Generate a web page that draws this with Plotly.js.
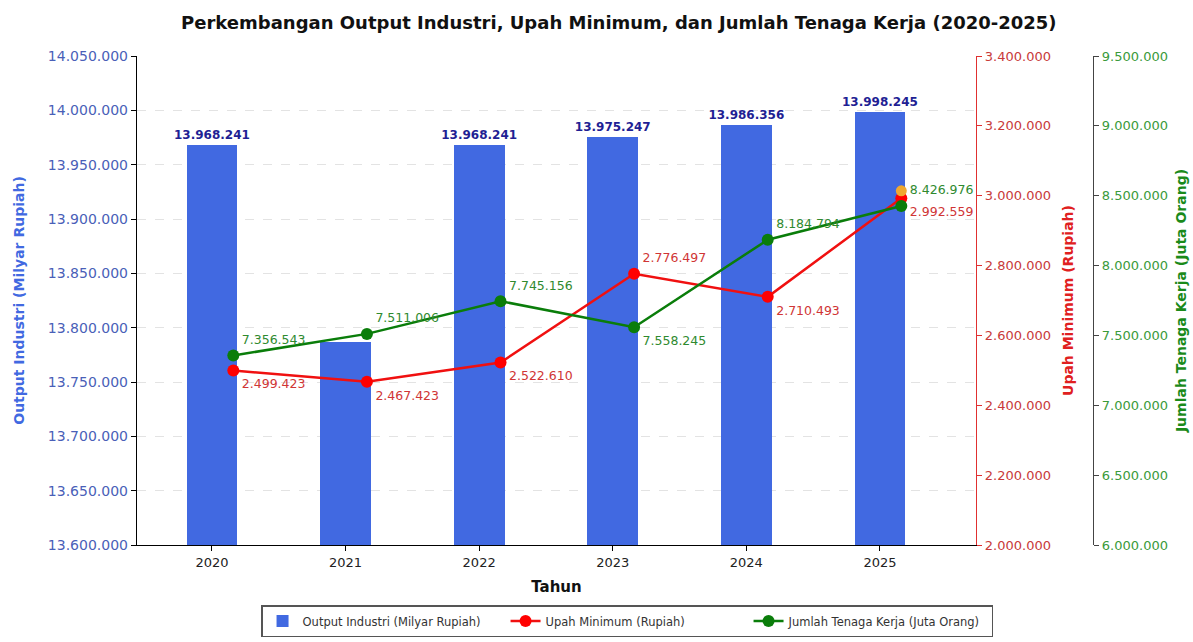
<!DOCTYPE html>
<html>
<head>
<meta charset="utf-8">
<script src="https://cdn.plot.ly/plotly-3.0.1.min.js"></script>
<style>
  html, body { margin: 0; padding: 0; background: #fff; }
  #chart { width: 1193px; height: 642px; }
</style>
</head>
<body>
<div id="chart"></div>
<script>
// ---- Data ----
const years = ['2020', '2021', '2022', '2023', '2024', '2025'];
const outputIndustri = [13968241, 13787000, 13968241, 13975247, 13986356, 13998245]; // Milyar Rupiah (2021 estimated, no label)
const outputLabelShown = [true, false, true, true, true, true];
const upahMinimum = [2499423, 2467423, 2522610, 2776497, 2710493, 2992559]; // Rupiah
const tenagaKerja = [7356543, 7511006, 7745156, 7558245, 8184794, 8426976]; // Juta Orang
const strayYear = ['2025'];
const strayValue = [8535000]; // small orange dot visible behind the 2025 green marker

const upahLabelPos = ['bottom right', 'bottom right', 'bottom right', 'top right', 'bottom right', 'bottom right'];
const tenagaLabelPos = ['top right', 'top right', 'top right', 'bottom right', 'top right', 'top right'];

// ---- Positions / styles ----
const LINE_SHIFT = 0.16;   // lines are drawn slightly right of the bar centres
const idx = years.map((_, i) => i);
const lineX = idx.map(i => i + LINE_SHIFT);
const strayX = strayYear.map(y => years.indexOf(y) + LINE_SHIFT);

const FONT = 'DejaVu Sans, sans-serif';
const BLUE = '#4169e1';
const RED = '#f01010';
const GREEN = '#0a7d0a';

const traces = [
  {
    type: 'bar',
    name: 'Output Industri (Milyar Rupiah)',
    x: idx,
    y: outputIndustri,
    width: 0.38,
    marker: { color: BLUE },
    texttemplate: outputLabelShown.map(s => s ? '<b>%{y:,.0f}</b>' : ''),
    textposition: 'outside',
    constraintext: 'none',
    cliponaxis: false,
    textfont: { family: FONT, size: 12, color: '#1f1f94' },
    xaxis: 'x', yaxis: 'y',
    hoverinfo: 'skip'
  },
  {
    type: 'scatter',
    mode: 'markers',
    x: strayX,
    y: strayValue,
    marker: { color: '#f0a830', size: 11 },
    showlegend: false,
    xaxis: 'x', yaxis: 'y3',
    hoverinfo: 'skip'
  },
  {
    type: 'scatter',
    mode: 'lines+markers+text',
    name: 'Upah Minimum (Rupiah)',
    x: lineX,
    y: upahMinimum,
    line: { color: RED, width: 2.5 },
    marker: { color: '#ff0000', size: 12 },
    texttemplate: '%{y:,.0f}',
    textposition: upahLabelPos,
    textfont: { family: FONT, size: 12.5, color: '#d03535' },
    cliponaxis: false,
    xaxis: 'x', yaxis: 'y2',
    hoverinfo: 'skip'
  },
  {
    type: 'scatter',
    mode: 'lines+markers+text',
    name: 'Jumlah Tenaga Kerja (Juta Orang)',
    x: lineX,
    y: tenagaKerja,
    line: { color: GREEN, width: 2.5 },
    marker: { color: GREEN, size: 12 },
    texttemplate: '%{y:,.0f}',
    textposition: tenagaLabelPos,
    textfont: { family: FONT, size: 12.5, color: '#2f8a2f' },
    cliponaxis: false,
    xaxis: 'x', yaxis: 'y3',
    hoverinfo: 'skip'
  }
];

const layout = {
  width: 1193,
  height: 642,
  paper_bgcolor: '#ffffff',
  plot_bgcolor: '#ffffff',
  separators: ',.',
  font: { family: FONT, size: 13, color: '#222' },
  margin: { l: 137, r: 100, t: 56, b: 97, pad: 0, autoexpand: false },
  showlegend: true,
  bargap: 0,
  title: {
    text: '<b>Perkembangan Output Industri, Upah Minimum, dan Jumlah Tenaga Kerja (2020-2025)</b>',
    font: { family: FONT, size: 18, color: '#111' },
    x: 0.504, xanchor: 'center', xref: 'paper',
    y: 0.964, yanchor: 'middle'
  },
  xaxis: {
    domain: [0, 0.8776],
    range: [-0.561, 5.719],
    tickmode: 'array',
    tickvals: idx,
    ticktext: years,
    showgrid: false,
    zeroline: false,
    showline: true, linecolor: '#000', linewidth: 1.2,
    ticks: 'outside', ticklen: 5, tickcolor: '#000',
    tickfont: { family: FONT, size: 13, color: '#222' },
    automargin: false,
    title: { text: '<b>Tahun</b>', font: { family: FONT, size: 15, color: '#111' }, standoff: 12 }
  },
  yaxis: {
    range: [13600000, 14050000],
    dtick: 50000,
    tick0: 13600000,
    tickformat: ',.0f',
    showgrid: true, gridcolor: '#e3e3e3', griddash: 'dash', gridwidth: 1,
    zeroline: false,
    showline: true, linecolor: '#000', linewidth: 1.2,
    ticks: 'outside', ticklen: 5, tickcolor: '#000',
    tickfont: { family: FONT, size: 14, color: '#4a5fb8' },
    automargin: false,
    title: { text: '<b>Output Industri (Milyar Rupiah)</b>', font: { family: FONT, size: 14, color: BLUE }, standoff: 20 }
  },
  yaxis2: {
    overlaying: 'y',
    anchor: 'x',
    side: 'right',
    range: [2000000, 3400000],
    dtick: 200000,
    tick0: 2000000,
    tickformat: ',.0f',
    showgrid: false, zeroline: false,
    showline: true, linecolor: '#e03030', linewidth: 1.2,
    ticks: 'outside', ticklen: 5, tickcolor: '#e03030',
    tickfont: { family: FONT, size: 13, color: '#c83a3a' },
    automargin: false,
    title: { text: '<b>Upah Minimum (Rupiah)</b>', font: { family: FONT, size: 14, color: '#e02020' }, standoff: 13 }
  },
  yaxis3: {
    overlaying: 'y',
    anchor: 'free',
    position: 1,
    side: 'right',
    range: [6000000, 9500000],
    dtick: 500000,
    tick0: 6000000,
    tickformat: ',.0f',
    showgrid: false, zeroline: false,
    showline: true, linecolor: '#444', linewidth: 1.2,
    ticks: 'outside', ticklen: 5, tickcolor: '#444',
    tickfont: { family: FONT, size: 13, color: '#3a9a3a' },
    automargin: false,
    title: { text: '<b>Jumlah Tenaga Kerja (Juta Orang)</b>', font: { family: FONT, size: 14, color: '#1a8a1a' }, standoff: 9 }
  },
  legend: {
    orientation: 'h',
    x: 0.5126, xanchor: 'center', xref: 'paper',
    y: -0.1227, yanchor: 'top', yref: 'paper',
    bordercolor: '#555', borderwidth: 1.5,
    bgcolor: '#ffffff',
    font: { family: FONT, size: 11.5, color: '#333' },
    itemwidth: 30,
    entrywidth: 198,
    entrywidthmode: 'pixels'
  }
};

Plotly.newPlot('chart', traces, layout, { staticPlot: true, displayModeBar: false });
</script>
</body>
</html>
